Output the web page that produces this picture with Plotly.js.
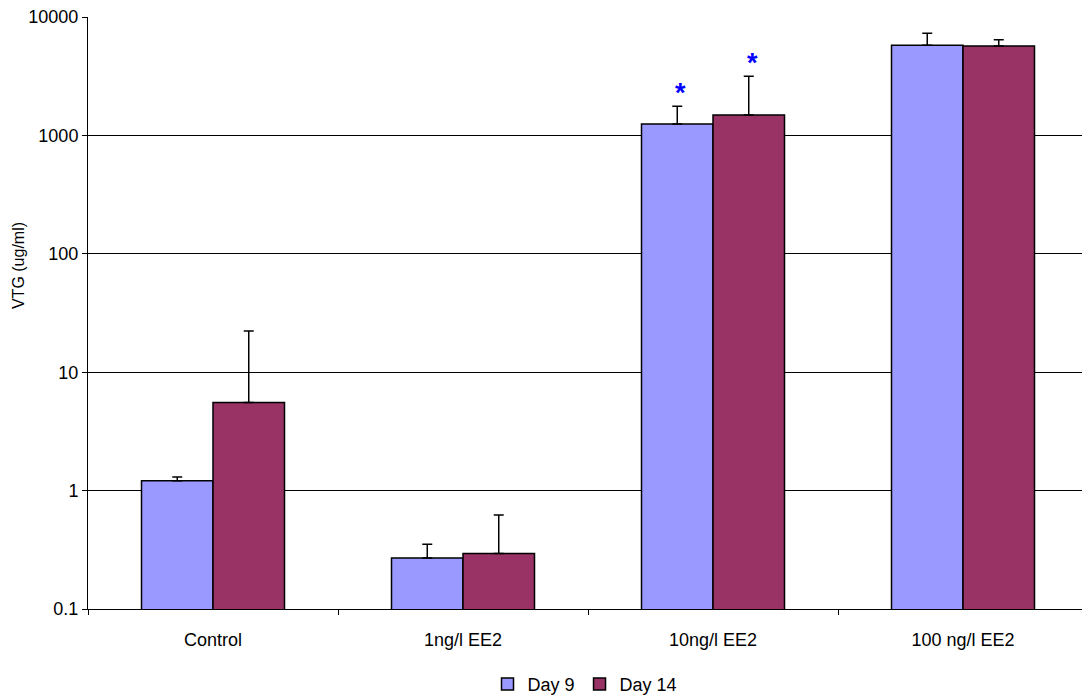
<!DOCTYPE html>
<html>
<head>
<meta charset="utf-8">
<script src="https://cdn.plot.ly/plotly-3.0.1.min.js"></script>
<style>
  html, body { margin: 0; padding: 0; background: #fff; overflow: hidden; }
  #chart { width: 1082px; height: 699px; }
</style>
</head>
<body>
<div id="chart"></div>
<script>
// Treatment groups
const categories = ["Control", "1ng/l EE2", "10ng/l EE2", "100 ng/l EE2"];

// Mean VTG concentration (ug/ml) per sampling day
const day9 = [1.21, 0.27, 1250, 5770];
const day14 = [5.56, 0.294, 1490, 5700];

// Upper error (standard deviation) added on top of each mean
const day9Err = [0.09, 0.082, 512, 1510];
const day14Err = [16.7, 0.328, 1667, 740];

// Groups flagged as significant, per series
const day9Sig = [false, false, true, false];
const day14Sig = [false, false, true, false];

const yTicks = [0.1, 1, 10, 100, 1000, 10000];
const yTickText = ["0.1", "1", "10", "100", "1000", "10000"];

const FONT = "Liberation Sans, Arial, sans-serif";

function barTrace(name, values, errs, color) {
  return {
    type: "bar",
    name: name,
    x: categories,
    y: values,
    marker: { color: color, line: { color: "#000", width: 1.5 } },
    error_y: {
      type: "data",
      symmetric: false,
      array: errs,
      arrayminus: errs.map(() => 0),
      color: "#000",
      thickness: 1.5,
      width: 5
    },
    hoverinfo: "skip"
  };
}

const traces = [
  barTrace("Day 9", day9, day9Err, "#9999FF"),
  barTrace("Day 14", day14, day14Err, "#993366")
];

// Blue asterisks above the significant bars
const annotations = [];
function addStars(values, errs, sig, shift) {
  sig.forEach((s, i) => {
    if (!s) return;
    annotations.push({
      x: categories[i],
      y: Math.log10(values[i] + errs[i]),
      xref: "x", yref: "y",
      text: "<b>*</b>",
      showarrow: false,
      xshift: shift,
      yanchor: "bottom",
      yshift: -4,
      font: { family: FONT, size: 27, color: "#0000FF" }
    });
  });
}
addStars(day9, day9Err, day9Sig, -33);
addStars(day14, day14Err, day14Sig, 39);

// Y-axis title, placed as rotated text beside the tick labels
annotations.push({
  xref: "paper", yref: "paper",
  x: -0.07, y: 0.58,
  xanchor: "center", yanchor: "middle",
  text: "VTG (ug/ml)",
  textangle: -90,
  showarrow: false,
  font: { family: FONT, size: 16, color: "#000" }
});

const layout = {
  width: 1082,
  height: 699,
  margin: { l: 88, r: 0, t: 17, b: 90 },
  paper_bgcolor: "#fff",
  plot_bgcolor: "#fff",
  font: { family: FONT, size: 16, color: "#000" },
  barmode: "group",
  bargap: 0.428,
  bargroupgap: 0,
  showlegend: true,
  legend: {
    orientation: "h",
    xref: "paper",
    x: 0.5, xanchor: "center",
    yref: "container",
    y: 0.021, yanchor: "middle",
    font: { family: FONT, size: 18, color: "#000" },
    itemwidth: 30,
    tracegroupgap: 0
  },
  xaxis: {
    type: "category",
    range: [-0.5, 3.476],
    tickson: "boundaries",
    ticks: "outside",
    ticklen: 5,
    tickcolor: "#000",
    ticklabelstandoff: 14,
    showline: true,
    linecolor: "#000",
    linewidth: 1,
    showgrid: false,
    zeroline: false,
    tickfont: { family: FONT, size: 18, color: "#000" },
    fixedrange: true
  },
  yaxis: {
    type: "log",
    range: [-1, 4],
    tickvals: yTicks,
    ticktext: yTickText,
    ticks: "outside",
    ticklen: 5,
    tickcolor: "#000",
    showline: true,
    linecolor: "#000",
    linewidth: 1,
    showgrid: true,
    gridcolor: "#000",
    gridwidth: 1,
    zeroline: false,
    tickfont: { family: FONT, size: 18, color: "#000" },
    fixedrange: true
  },
  annotations: annotations
};

Plotly.newPlot("chart", traces, layout, { displayModeBar: false, staticPlot: true });
</script>
</body>
</html>
